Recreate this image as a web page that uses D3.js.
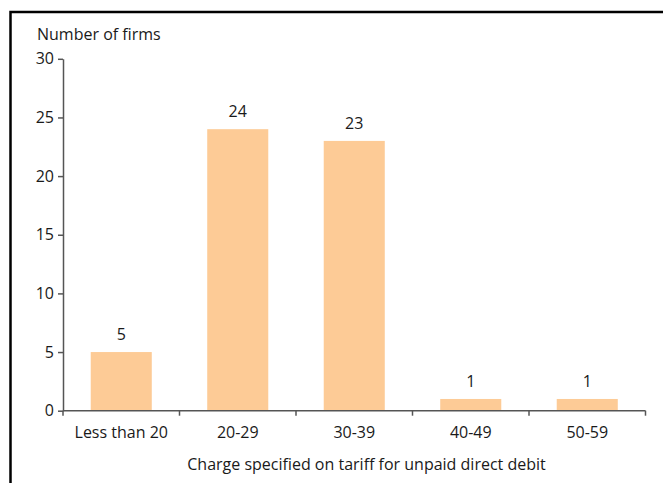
<!DOCTYPE html>
<html>
<head>
<meta charset="utf-8">
<script src="https://cdn.jsdelivr.net/npm/d3@7"></script>
<style>
  html, body { margin: 0; padding: 0; background: #fff; }
  svg { display: block; }
  text { font-family: "Open Sans", "Noto Sans", sans-serif; fill: #1a1a1a; }
</style>
</head>
<body>
<script>
// Firms by the charge they specify for an unpaid direct debit
const categories = ["Less than 20", "20-29", "30-39", "40-49", "50-59"];
const firms = [5, 24, 23, 1, 1];
const yTicks = [0, 5, 10, 15, 20, 25, 30];

const W = 663, H = 483;
const FONT = "'Open Sans', 'Noto Sans', sans-serif";
const FS = 16;
const svg = d3.select("body").append("svg").attr("width", W).attr("height", H);

// frame around the figure (open to the right and bottom)
svg.append("path")
  .attr("d", `M10.5,${H} L10.5,12 L${W},12`)
  .attr("fill", "none").attr("stroke", "#000").attr("stroke-width", 2.5);

const x0 = 63, x1 = 645.5, yTop = 58.8, yBase = 410.7;

const x = d3.scaleBand().domain(categories).range([x0, x1])
  .paddingInner(0.476).paddingOuter(0.238);
const y = d3.scaleLinear().domain([0, 30]).range([yBase, yTop]);

const axisColor = "#555";

// bars
svg.append("g").selectAll("rect").data(categories).join("rect")
  .attr("x", d => x(d))
  .attr("y", (d, i) => y(firms[i]))
  .attr("width", x.bandwidth())
  .attr("height", (d, i) => yBase - y(firms[i]))
  .attr("fill", "#fdcb96");

// value labels
svg.append("g").selectAll("text").data(categories).join("text")
  .attr("x", d => x(d) + x.bandwidth() / 2)
  .attr("y", (d, i) => y(firms[i]) - 12)
  .attr("text-anchor", "middle")
  .attr("font-size", FS)
  .text((d, i) => firms[i]);

// y axis
const yAxis = svg.append("g").attr("transform", `translate(${x0},0)`)
  .call(d3.axisLeft(y).tickValues(yTicks).tickSize(5).tickPadding(4).tickSizeOuter(0));
yAxis.select(".domain").attr("stroke", axisColor).attr("stroke-width", 1.5);
yAxis.selectAll(".tick line").attr("stroke", axisColor).attr("stroke-width", 1.5);
yAxis.selectAll(".tick text").attr("font-size", FS).attr("font-family", FONT).attr("fill", "#1a1a1a");

// x axis: ticks on category boundaries, labels centred in each band
const bounds = d3.range(categories.length + 1).map(i => x0 + i * x.step());
const xAxis = svg.append("g").attr("transform", `translate(0,${yBase})`);
xAxis.append("line").attr("x1", x0).attr("x2", x1)
  .attr("stroke", axisColor).attr("stroke-width", 1.5);
xAxis.selectAll("line.t").data(bounds).join("line").attr("class", "t")
  .attr("x1", d => d).attr("x2", d => d).attr("y1", 0).attr("y2", 5)
  .attr("stroke", axisColor).attr("stroke-width", 1.5);
xAxis.selectAll("text").data(categories).join("text")
  .attr("x", d => x(d) + x.bandwidth() / 2)
  .attr("y", 27.5)
  .attr("text-anchor", "middle")
  .attr("font-size", FS)
  .text(d => d);

// titles
svg.append("text").attr("x", 37).attr("y", 40).attr("font-size", FS).text("Number of firms");
svg.append("text").attr("x", 366.5).attr("y", 469.5).attr("text-anchor", "middle")
  .attr("font-size", FS).text("Charge specified on tariff for unpaid direct debit");
</script>
</body>
</html>
